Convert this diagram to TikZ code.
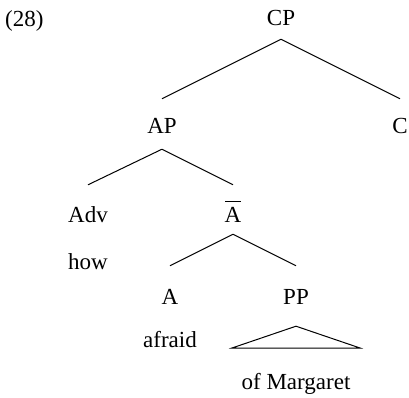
\documentclass[tikz,border=0pt]{standalone}
\usepackage{fontspec}
\setmainfont{Liberation Serif}
\begin{document}
\begin{tikzpicture}[x=1pt,y=1pt,
  lab/.style={anchor=base,inner sep=0pt,text height=15pt,text depth=5pt,font=\fontsize{23}{27}\selectfont},
  branch/.style={line width=1pt}]
\useasboundingbox (0,0) rectangle (409,397);
\node[lab,anchor=base west] (ex) at (5,370) {(28)};
\node[lab] (CP) at (281,371) {CP};
\node[lab] (AP) at (162,264) {AP};
\node[lab] (C) at (400,264) {C};
\node[lab] (Adv) at (88,175) {Adv};
\node[lab] (Ab) at (233,175) {\ooalign{A\cr\hidewidth\rule[20pt]{16pt}{1.2pt}\hidewidth\cr}};
\node[lab] (how) at (88,128) {how};
\node[lab] (A) at (170,93) {A};
\node[lab] (PP) at (296,93) {PP};
\node[lab] (afraid) at (170,50) {afraid};
\node[lab] (OM) at (296,8) {of Margaret};
\draw[branch] ([yshift=-8pt]CP.south) -- ([yshift=19pt]AP.north);
\draw[branch] ([yshift=-8pt]CP.south) -- ([yshift=19pt]C.north);
\draw[branch] ([yshift=-11pt]AP.south) -- ([yshift=22pt]Adv.north);
\draw[branch] ([yshift=-11pt]AP.south) -- ([yshift=22pt]Ab.north);
\draw[branch] ([yshift=-7pt]Ab.south) -- ([yshift=23pt]A.north);
\draw[branch] ([yshift=-7pt]Ab.south) -- ([yshift=23pt]PP.north);
\coordinate (triL) at ([xshift=-64pt,yshift=41pt]OM.base);
\coordinate (triR) at ([xshift=64pt,yshift=41pt]OM.base);
\draw[branch,line join=miter] ([yshift=-17pt]PP.south) -- (triL) -- (triR) -- cycle;
\end{tikzpicture}
\end{document}
